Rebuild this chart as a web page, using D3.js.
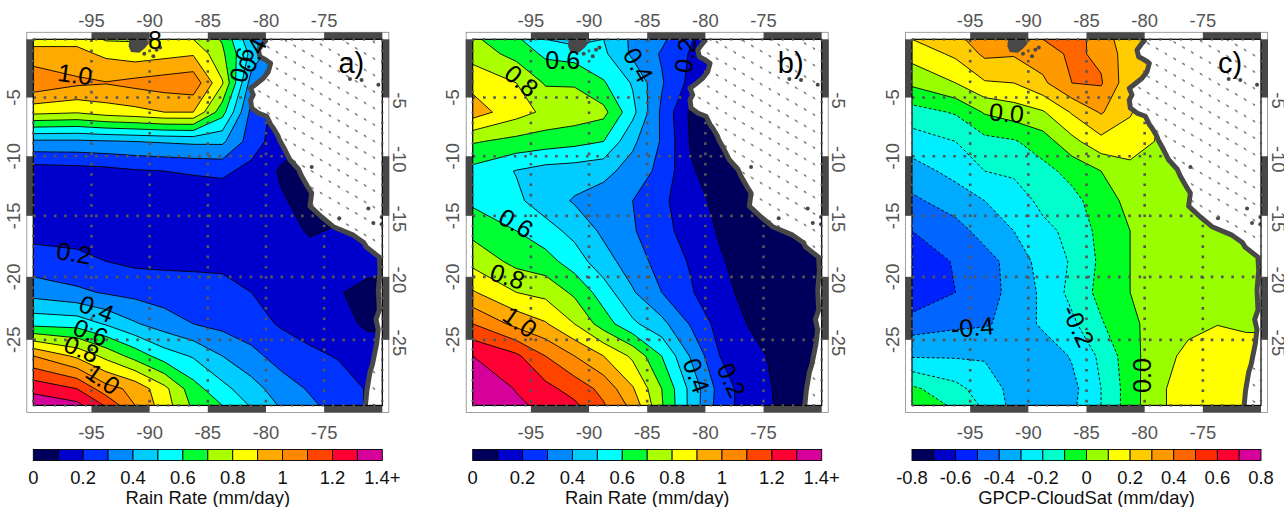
<!DOCTYPE html>
<html><head><meta charset="utf-8">
<script src="https://cdn.jsdelivr.net/npm/d3@7"></script>
<style>html,body{margin:0;padding:0;background:#fff}svg{display:block}text{font-family:"Liberation Sans",Arial,sans-serif}</style>
</head><body><svg id="c" width="1284" height="507"></svg>
<script>
const gridLons=[-100,-96.25,-93.75,-91.25,-88.75,-86.25,-83.75,-81.25,-78.75,-76.25,-73.75,-71.25,-70];
const gridLats=[0,-1.25,-3.75,-6.25,-8.75,-11.25,-13.75,-16.25,-18.75,-21.25,-23.75,-26.25,-28.75,-30];
const rainA=[
[.86,.87,.79,.79,.82,.80,.69,.42,.2,.1,.1,.1,.1],
[.94,.93,.88,.85,.87,.89,.72,.47,.3,.1,.1,.1,.1],
[1.08,1.02,1.005,1.03,1.05,1.07,.81,.35,.2,.1,.1,.1,.1],
[.83,.81,.85,.87,.9,.9,.64,.27,.15,.1,.1,.1,.1],
[.38,.38,.39,.40,.41,.42,.42,.25,.14,.1,.1,.1,.1],
[.15,.16,.17,.19,.2,.21,.22,.17,.09,.08,.08,.08,.08],
[.14,.14,.14,.14,.14,.14,.14,.13,.11,.07,.08,.08,.08],
[.17,.17,.16,.15,.15,.15,.14,.13,.12,.095,.105,.12,.12],
[.24,.22,.2,.18,.18,.18,.18,.17,.14,.12,.13,.13,.13],
[.36,.32,.29,.27,.25,.24,.23,.2,.16,.13,.105,.075,.07],
[.57,.56,.49,.41,.35,.3,.27,.24,.19,.14,.12,.09,.09],
[1.0,.88,.77,.66,.55,.49,.4,.33,.26,.23,.19,.13,.13],
[1.27,1.2,1.04,.97,.83,.64,.53,.44,.35,.29,.26,.19,.19],
[1.37,1.33,1.19,1.0,.85,.68,.6,.49,.39,.32,.26,.19,.19]];
const rainB=[
[.72,.62,.5,.46,.5,.38,.32,.21,.1,.05,.05,.05,.05],
[.76,.665,.58,.56,.52,.38,.29,.19,.12,.05,.05,.05,.05],
[.87,.8,.69,.69,.61,.49,.31,.17,.1,.05,.05,.05,.05],
[.95,.84,.78,.76,.73,.53,.28,.08,.08,.05,.05,.05,.05],
[.71,.67,.65,.63,.6,.42,.29,.09,.06,.05,.05,.05,.05],
[.57,.495,.46,.45,.43,.36,.27,.11,.05,.05,.05,.05,.05],
[.58,.52,.45,.39,.35,.3,.22,.14,.07,.05,.05,.05,.05],
[.67,.6,.54,.47,.38,.31,.23,.16,.09,.05,.04,.04,.04],
[.77,.67,.64,.55,.44,.35,.26,.19,.11,.06,.05,.04,.04],
[.91,.8,.77,.68,.55,.41,.3,.21,.12,.08,.05,.05,.05],
[1.1,.97,.91,.8,.65,.52,.43,.29,.16,.095,.07,.06,.06],
[1.3,1.22,1.1,1.0,.9,.78,.6,.39,.2,.13,.08,.07,.07],
[1.45,1.29,1.23,1.16,1.07,.91,.7,.47,.26,.14,.09,.08,.08],
[1.5,1.33,1.26,1.22,1.11,.97,.71,.47,.25,.15,.09,.08,.08]];
const diffC=[
[.2,.28,.34,.37,.4,.43,.37,.21,.2,.05,.05,.05,.05],
[.14,.22,.32,.31,.35,.42,.38,.24,.2,.05,.05,.05,.05],
[.02,.1,.19,.2,.28,.4,.41,.23,.15,.05,.05,.05,.05],
[-.14,-.09,.01,.05,.09,.21,.31,.21,.1,.05,.05,.05,.05],
[-.25,-.2,-.13,-.11,-.05,.07,.17,.15,.09,.05,.05,.05,.05],
[-.34,-.27,-.2,-.18,-.13,-.07,0,.07,.06,.05,.05,.05,.05],
[-.42,-.35,-.3,-.26,-.17,-.13,-.05,.03,.05,.05,.05,.05,.05],
[-.5,-.44,-.36,-.3,-.23,-.17,-.07,0,.04,.05,.05,.05,.05],
[-.57,-.49,-.44,-.36,-.26,-.19,-.08,0,.04,.05,.05,.05,.05],
[-.59,-.5,-.44,-.37,-.28,-.17,-.07,0,.04,.05,.05,.05,.05],
[-.45,-.42,-.41,-.37,-.28,-.22,-.11,-.02,.04,.08,.098,.085,.085],
[-.31,-.31,-.31,-.35,-.37,-.29,-.18,-.04,.07,.12,.14,.14,.14],
[-.08,-.17,-.25,-.33,-.37,-.33,-.2,-.05,.09,.13,.14,.14,.14],
[-.02,-.12,-.22,-.33,-.36,-.32,-.2,-.05,.09,.13,.14,.14,.14]];
const rainColors=["#00005c","#0000cd","#0033ff","#0088ff","#00ccff","#00ffff","#00ff33","#aaff00","#ffff00","#ffaa00","#ff8800","#ff4400","#ff0033","#d6009b"];
const diffColors=["#00005c","#0000c8","#0022ff","#0066ff","#00aaff","#00eeff","#00ffcc","#00ff22","#99ff00","#ffff00","#ffcc00","#ff9900","#ff6600","#ff2a00","#ff0033","#d6009b"];
const lonTicks=[-95,-90,-85,-80,-75];
const latTicks=[-5,-10,-15,-20,-25];
const gridLonLines=[-100,-95,-90,-85,-80,-75,-70];
const gridLatLines=[0,-5,-10,-15,-20,-25,-30];
const frameLonBlocks=[[-95,-90],[-85,-80],[-75,-70]];
const frameLatBlocks=[[0,-5],[-10,-15],[-20,-25]];
const coast=[[-79.94,0],[-80.23,-.34],[-80.66,-.91],[-80.52,-1.5],[-80.0,-1.78],[-79.6,-2.07],[-79.8,-2.78],[-80.23,-3.35],[-80.95,-3.92],[-81.32,-4.2],[-81.09,-4.77],[-81.32,-5.2],[-81.23,-5.9],[-80.66,-6.33],[-79.94,-6.6],[-79.6,-7.3],[-79.37,-7.6],[-78.95,-8.3],[-78.85,-8.6],[-78.35,-9.5],[-77.94,-10.3],[-77.2,-11.1],[-76.93,-11.7],[-76.4,-12.6],[-76.07,-13.1],[-76.22,-14.2],[-75.21,-15.1],[-74.21,-15.9],[-72.49,-16.6],[-71.6,-17.2],[-71.35,-17.6],[-70.26,-18.4],[-70.2,-19.5],[-70.34,-21.05],[-70.26,-22.65],[-70.54,-23.4],[-70.35,-24.2],[-70.49,-25.3],[-70.85,-26.9],[-71.06,-27.5],[-71.33,-28.9],[-71.45,-30]];
const landCorners=[[-70,-30],[-70,0]];
const galapagos=[[-91.75,0],[-90.26,0],[-90.05,-.34],[-90.4,-.75],[-90.9,-1.15],[-91.6,-1.1],[-91.8,-.6]];
const specks=[[-90.46,-1.25],[-89.68,-1.45],[-89.4,-.9],[-89.1,-.7],[-76.07,-10.9],[-72.78,-3.4],[-71.78,-3.5],[-70.34,-3.9],[-71.2,-14.4],[-73.7,-15.2],[-70.77,-15.6],[-70.06,-15.1],[-70.06,-15.7]];
const labelsA=[["1.0",-96.4,-3,8],["8",-89.54,-.1,0],["0.6",-82.1,-2.2,-75],["0.4",-81.2,-1.35,-65],["0.2",-96.5,-18.05,10],["0.4",-94.56,-22.55,22],["0.6",-95.07,-24.4,22],["0.8",-95.85,-25.7,22],["1.0",-94,-28,35]];
const labelsB=[["0.6",-92.26,-1.8,0],["0.4",-85.76,-2.2,60],["0.2",-81.75,-1.4,-82],["0.8",-95.8,-3.55,40],["0.6",-96.27,-15.6,30],["0.8",-97,-19.95,18],["1.0",-95.93,-23.6,35],["0.4",-80.75,-27.75,70],["0.2",-77.74,-28.1,65]];
const labelsC=[["0.0",-91.86,-6.3,5],["-0.4",-94.81,-24,-5],["-0.2",-85.7,-23.9,65],["0.0",-80.26,-27.75,-90]];
const rainTickVals=[0,.2,.4,.6,.8,1,1.2,1.4];
const rainTickText=["0","0.2","0.4","0.6","0.8","1","1.2","1.4+"];
const diffTickVals=[-.8,-.6,-.4,-.2,0,.2,.4,.6,.8];
const diffTickText=["-0.8","-0.6","-0.4","-0.2","0","0.2","0.4","0.6","0.8"];
const panels=[
 {left:33.3,grid:rainA,lo:0,n:14,colors:rainColors,labels:labelsA,tag:"a)",ticks:rainTickVals,tickText:rainTickText,title:"Rain Rate (mm/day)"},
 {left:472.7,grid:rainB,lo:0,n:14,colors:rainColors,labels:labelsB,tag:"b)",ticks:rainTickVals,tickText:rainTickText,title:"Rain Rate (mm/day)"},
 {left:912,grid:diffC,lo:-.8,n:16,colors:diffColors,labels:labelsC,tag:"c)",ticks:diffTickVals,tickText:diffTickText,title:"GPCP-CloudSat (mm/day)"}];
const W=349,TOP=39.3,K=W/(30*Math.PI/180),GAP=7;
const FR="#484848",TC="#555";
const svg=d3.select("#c");
const defs=svg.append("defs");
defs.append("pattern").attr("id","stip").attr("patternUnits","userSpaceOnUse").attr("width",8.8).attr("height",16.5)
 .attr("patternTransform","skewY(30)").append("rect").attr("x",3).attr("y",7).attr("width",2.6).attr("height",1.3).attr("fill","#4a4a4a");
const idxLon=d3.scaleLinear().domain(d3.range(gridLons.length)).range(gridLons);
const idxLat=d3.scaleLinear().domain(d3.range(gridLats.length)).range(gridLats);
panels.forEach((P,pi)=>{
 const proj=d3.geoMercator().scale(K).translate([P.left+K*100*Math.PI/180,TOP]);
 const g=svg.append("g");
 const [x0,y0]=proj([-100,0]),[x1,y1]=proj([-70,-30]);
 const id="clip"+pi;
 defs.append("clipPath").attr("id",id).append("rect").attr("x",x0).attr("y",y0).attr("width",x1-x0).attr("height",y1-y0);
 g.append("rect").attr("x",x0-GAP+.5).attr("y",y0-GAP).attr("width",x1-x0+2*GAP-1).attr("height",y1-y0+2*GAP).attr("fill","#fff").attr("stroke","#888").attr("stroke-width",.8);
 frameLonBlocks.forEach(b=>{const a=proj([b[0],0])[0],c=proj([b[1],0])[0];
  g.append("rect").attr("x",a).attr("y",y0-GAP).attr("width",c-a).attr("height",GAP).attr("fill",FR);
  g.append("rect").attr("x",a).attr("y",y1).attr("width",c-a).attr("height",GAP).attr("fill",FR);});
 frameLatBlocks.forEach(b=>{const a=proj([-100,b[0]])[1],c=proj([-100,b[1]])[1];
  g.append("rect").attr("x",x0-GAP).attr("y",a).attr("width",GAP).attr("height",c-a).attr("fill",FR);
  g.append("rect").attr("x",x1).attr("y",a).attr("width",GAP).attr("height",c-a).attr("fill",FR);});
 const flat=P.grid.flat();
 const nx=gridLons.length,ny=gridLats.length;
 const thr=d3.range(1,P.n).map(i=>+(P.lo+i*.1).toFixed(2));
 const path=d3.geoPath(d3.geoTransform({point(x,y){const p=proj([idxLon(x-.5),idxLat(y-.5)]);this.stream.point(p[0],p[1]);}}));
 const cs=d3.contours().size([nx,ny]).thresholds(thr)(flat);
 const body=g.append("g").attr("clip-path",`url(#${id})`);
 body.append("rect").attr("x",x0).attr("y",y0).attr("width",x1-x0).attr("height",y1-y0).attr("fill",P.colors[0]);
 body.selectAll("path.f").data(cs).join("path").attr("class","f").attr("d",path)
  .attr("fill",(d,i)=>P.colors[i+1]).attr("stroke","none");
 body.selectAll("path.l").data(cs).join("path").attr("class","l").attr("d",path).attr("fill","none")
  .attr("stroke","#000").attr("stroke-width",.9)
  .attr("stroke-dasharray",d=>d.value<-.001?"3,2":null);
 const dots=(s,a,b,w=2.6)=>s.append("line").attr("x1",a[0]).attr("y1",a[1]).attr("x2",b[0]).attr("y2",b[1])
  .attr("stroke","#555").attr("stroke-width",w).attr("stroke-dasharray",`${w},${10.3-w}`);
 gridLonLines.slice(1,-1).forEach(l=>dots(body,proj([l,0]),proj([l,-30])));
 gridLatLines.slice(1,-1).forEach(l=>dots(body,proj([-100,l]),proj([-70,l])));
 const line=d3.line();
 const landPts=coast.concat(landCorners).map(proj);
 body.append("path").attr("d",line(landPts)+"Z").attr("fill","#fff");
 body.append("path").attr("d",line(landPts)+"Z").attr("fill","url(#stip)");
 body.append("path").attr("d",line(coast.map(proj))).attr("fill","none").attr("stroke",FR).attr("stroke-width",5).attr("stroke-linejoin","round");
 body.append("path").attr("d",line(galapagos.map(proj))+"Z").attr("fill",FR);
 body.selectAll("circle").data(specks).join("circle").attr("cx",d=>proj(d)[0]).attr("cy",d=>proj(d)[1]).attr("r",2).attr("fill",FR);
 g.append("rect").attr("x",x0).attr("y",y0).attr("width",x1-x0).attr("height",y1-y0).attr("fill","none").attr("stroke","#000").attr("stroke-width",1.2);
 dots(g,[x0,y0],[x1,y0],2.2);dots(g,[x0,y1],[x1,y1],2.2);dots(g,[x0,y0],[x0,y1],2.2);dots(g,[x1,y0],[x1,y1],2.2);
 lonTicks.forEach(l=>{const x=proj([l,0])[0];
  [20,432].forEach(y=>g.append("text").attr("x",x).attr("y",y).attr("text-anchor","middle").attr("dominant-baseline","central").attr("font-size",18.4).attr("fill",TC).text(l));});
 latTicks.forEach(l=>{const y=proj([-100,l])[1];
  g.append("text").attr("transform",`translate(${x0-20},${y}) rotate(-90)`).attr("text-anchor","middle").attr("dominant-baseline","central").attr("font-size",18.4).attr("fill",TC).text(l);
  g.append("text").attr("transform",`translate(${x1+17},${y+3}) rotate(90)`).attr("text-anchor","middle").attr("dominant-baseline","central").attr("font-size",18.4).attr("fill",TC).text(l);});
 g.selectAll("text.cl").data(P.labels).join("text").attr("class","cl")
  .attr("transform",d=>{const p=proj([d[1],d[2]]);return `translate(${p[0]},${p[1]}) rotate(${d[3]})`;})
  .attr("text-anchor","middle").attr("dominant-baseline","central").attr("font-size",25).attr("fill","#000").text(d=>d[0]);
 g.append("text").attr("x",x1-31).attr("y",y0+34).attr("text-anchor","middle").attr("font-size",29).attr("fill","#000").text(P.tag);
 const vmin=P.lo,vmax=+(P.lo+P.n*.1).toFixed(2);
 const cx=d3.scaleLinear().domain([vmin,vmax]).range([x0,x1]);
 const cb=svg.append("g");
 cb.selectAll("rect").data(P.colors).join("rect").attr("x",(d,i)=>cx(P.lo+i*.1)).attr("y",449.5).attr("width",W/P.n).attr("height",11)
  .attr("fill",d=>d).attr("stroke","#000").attr("stroke-width",.9);
 cb.selectAll("text.t").data(P.ticks).join("text").attr("class","t").attr("x",d=>cx(d)).attr("y",477).attr("text-anchor","middle").attr("dominant-baseline","central")
  .attr("font-size",18.4).attr("fill","#111").text((d,i)=>P.tickText[i]);
 cb.append("text").attr("x",(x0+x1)/2).attr("y",497.5).attr("text-anchor","middle").attr("dominant-baseline","central").attr("font-size",18.4).attr("fill","#111").text(P.title);
});
</script></body></html>
